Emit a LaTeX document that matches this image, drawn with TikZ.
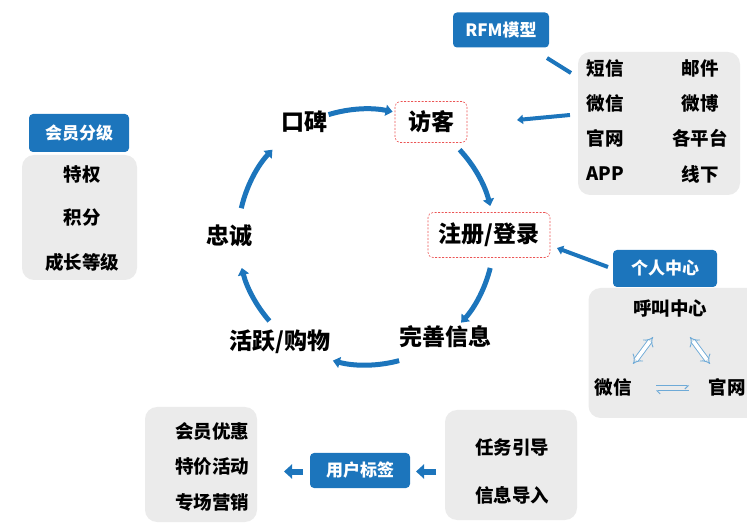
\documentclass[tikz,border=0pt]{standalone}
\usepackage{fontspec}
\setmainfont{Noto Sans CJK SC}
\usetikzlibrary{arrows.meta,calc}
\definecolor{bblue}{RGB}{28,117,188}
\definecolor{lblue}{RGB}{110,170,215}
\definecolor{gbox}{RGB}{235,235,235}
\definecolor{dred}{RGB}{235,85,85}
\begin{document}
\begin{tikzpicture}[x=1pt,y=1pt,
  cyc/.style={draw=bblue,line width=5pt,-{Triangle[length=7pt,width=11pt]}},
  conn/.style={draw=bblue,line width=4pt},
  connar/.style={conn,-{Triangle[length=6pt,width=9pt]}},
  bluebox/.style={fill=bblue,rounded corners=4pt,text=white,font=\fontsize{17}{19}\selectfont\bfseries,inner sep=0pt},
  graybox/.style={fill=gbox,rounded corners=12pt,inner sep=0pt},
  redbox/.style={draw=dred,line width=0.6pt,dash pattern=on 2pt off 1.5pt,rounded corners=5pt,inner sep=0pt},
  bigtxt/.style={font=\fontsize{23}{26}\selectfont\bfseries,inner sep=0pt},
  smtxt/.style={font=\fontsize{18.5}{21}\selectfont\bfseries,inner sep=0pt},
  hollow/.style={draw=lblue,double=white,double distance=3.6pt,line width=0.9pt,{Implies}-{Implies}}]
\useasboundingbox (0,0) rectangle (747,525);
% gray boxes
\node[graybox,minimum width=162,minimum height=143] (chbox) at (659,401.5) {};
\node[graybox,minimum width=115,minimum height=125] (lvbox) at (79.5,307.5) {};
\node[graybox,minimum width=175,minimum height=130] (pcbox) at (676,172) {};
\node[graybox,minimum width=112,minimum height=115] (prbox) at (201,60.5) {};
\node[graybox,minimum width=132,minimum height=110] (tkbox) at (511,60) {};
% blue boxes
\node[bluebox,minimum width=96,minimum height=35] (rfm) at (501,495) {RFM模型};
\node[bluebox,minimum width=100,minimum height=38] (hyfj) at (79,392) {会员分级};
\node[bluebox,minimum width=104,minimum height=37] (grzx) at (665,256.5) {个人中心};
\node[bluebox,minimum width=100,minimum height=35] (yhbq) at (360,54.5) {用户标签};
% cycle nodes
\node[redbox,minimum width=72,minimum height=41] (fk) at (431,403) {};
\node[bigtxt] (fkt) at (431,403) {访客};
\node[bigtxt] (kb) at (304,403) {口碑};
\node[redbox,minimum width=122,minimum height=45] (zc) at (489,290) {};
\node[bigtxt] (zct) at (489,290) {注册/登录};
\node[bigtxt] (ws) at (445,188) {完善信息};
\node[bigtxt] (hy) at (280,183) {活跃/购物};
\node[bigtxt] (zh) at (229,289) {忠诚};
% channel texts
\node[smtxt] (c1) at (605,457) {短信};
\node[smtxt] (c2) at (700,457) {邮件};
\node[smtxt] (c3) at (605,422) {微信};
\node[smtxt] (c4) at (700,422) {微博};
\node[smtxt] (c5) at (605,387) {官网};
\node[smtxt] (c6) at (700,387) {各平台};
\node[smtxt] (c7) at (605,351) {APP};
\node[smtxt] (c8) at (700,351) {线下};
% level texts
\node[smtxt] (l1) at (82,350) {特权};
\node[smtxt] (l2) at (82,307) {积分};
\node[smtxt] (l3) at (82,263) {成长等级};
% personal center
\node[smtxt] (p1) at (670,217) {呼叫中心};
\node[smtxt] (p2) at (613,138) {微信};
\node[smtxt] (p3) at (727,138) {官网};
% promo
\node[smtxt] (m1) at (212,93) {会员优惠};
\node[smtxt] (m2) at (212,58) {特价活动};
\node[smtxt] (m3) at (212,23) {专场营销};
\node[smtxt] (t1) at (512,78) {任务引导};
\node[smtxt] (t2) at (512,30) {信息导入};
% cycle arcs
\coordinate (ctr) at (366,288);
\draw[cyc] ($(ctr)+(107:128pt)$) arc[start angle=107,end angle=78,radius=128pt];
\draw[cyc] ($(ctr)+(43:128pt)$) arc[start angle=43,end angle=14,radius=128pt];
\draw[cyc] ($(ctr)+(-14:128pt)$) arc[start angle=-14,end angle=-42,radius=128pt];
\draw[cyc] ($(ctr)+(-75:128pt)$) arc[start angle=-75,end angle=-105,radius=128pt];
\draw[cyc] ($(ctr)+(-139:128pt)$) arc[start angle=-139,end angle=-166,radius=128pt];
\draw[cyc] ($(ctr)+(167:128pt)$) arc[start angle=167,end angle=137,radius=128pt];
% connectors
\coordinate (r1) at (547,467);
\coordinate (r2) at (571,452);
\draw[conn] (r1) -- (r2);
\coordinate (a1) at (570,410);
\coordinate (a2) at (517,405);
\draw[connar] (a1) -- (a2);
\coordinate (g1) at (608,258);
\coordinate (g2) at (557,277);
\draw[connar] (g1) -- (g2);
% hollow arrows
\coordinate (h1) at (633,161);
\coordinate (h2) at (653,188);
\coordinate (h3) at (690,188);
\coordinate (h4) at (710,161);
\draw[hollow] (h1) -- (h2);
\draw[hollow] (h3) -- (h4);
\coordinate (e1) at (656,139);
\coordinate (e2) at (689,139);
\coordinate (e3) at (656,134);
\coordinate (e4) at (689,134);
\draw[lblue,line width=1pt,-{Straight Barb[right,length=3pt]}] (e1) -- (e2);
\draw[lblue,line width=1pt,{Straight Barb[left,length=3pt]}-] (e3) -- (e4);
% block arrows
\coordinate (b1) at (303,53.5);
\coordinate (b2) at (284,53.5);
\coordinate (b3) at (436,53.5);
\coordinate (b4) at (416,53.5);
\draw[draw=bblue,line width=6pt,-{Triangle[length=8pt,width=14pt]}] (b1) -- (b2);
\draw[draw=bblue,line width=6pt,-{Triangle[length=8pt,width=14pt]}] (b3) -- (b4);
\end{tikzpicture}
\end{document}
